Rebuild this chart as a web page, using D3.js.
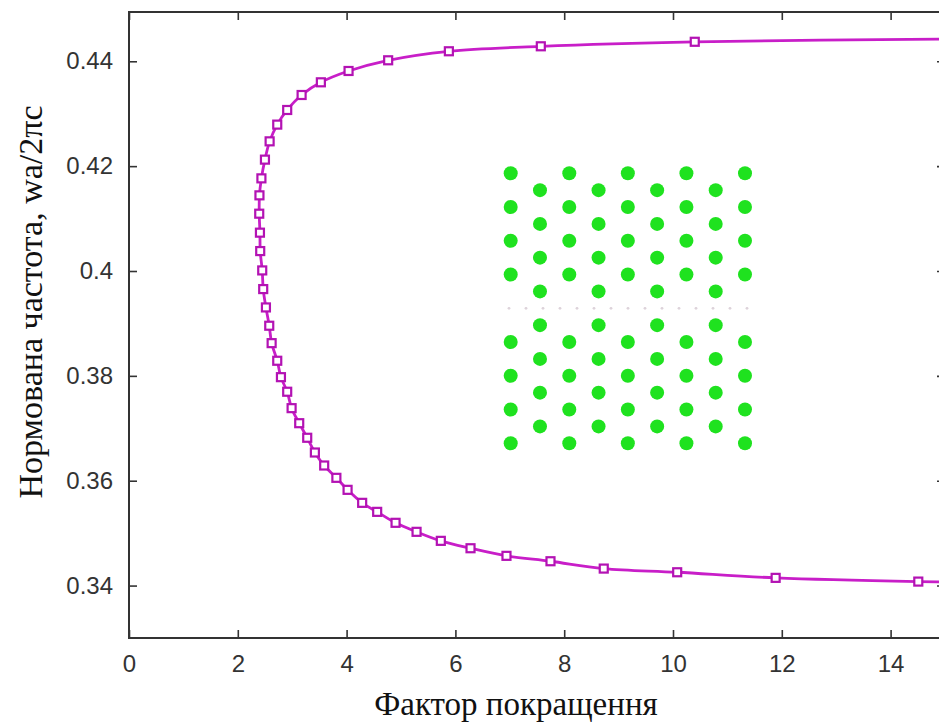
<!DOCTYPE html>
<html>
<head>
<meta charset="utf-8">
<script src="https://cdn.jsdelivr.net/npm/d3@7/dist/d3.min.js"></script>
<style>
  html, body { margin: 0; padding: 0; background: #fff; }
  svg { display: block; }
</style>
</head>
<body>
<svg id="chart" width="939" height="726"></svg>
<script>
// Enhancement factor (x) vs normalised frequency wa/2πc (y), traced along the band edge
const factor = [10.40, 7.57, 5.88, 4.764, 4.036, 3.527, 3.173, 2.908, 2.725, 2.585,
  2.499, 2.434, 2.398, 2.394, 2.407, 2.412, 2.449, 2.467, 2.517, 2.578,
  2.622, 2.725, 2.793, 2.908, 2.989, 3.129, 3.276, 3.417, 3.588, 3.812,
  4.018, 4.286, 4.562, 4.900, 5.286, 5.732, 6.278, 6.939, 7.748, 8.727,
  10.077, 11.887, 14.509];
const freq = [0.44372, 0.44286, 0.44191, 0.44019, 0.43815, 0.43599, 0.43357, 0.43071, 0.42792, 0.42473,
  0.42124, 0.41767, 0.41443, 0.41093, 0.40731, 0.40380, 0.40011, 0.39655, 0.39305, 0.38956,
  0.38624, 0.38288, 0.37975, 0.37697, 0.37384, 0.37097, 0.36819, 0.36538, 0.36290, 0.36055,
  0.35826, 0.35578, 0.35406, 0.35197, 0.35025, 0.34853, 0.34712, 0.34567, 0.34464, 0.34324,
  0.34254, 0.34147, 0.34076];
// the two branches continue past the right border of the frame
const tailFactor = [15.6, 15.6];
const tailFreq = [0.44430, 0.34062];

const xTicks = [0, 2, 4, 6, 8, 10, 12, 14];
const yTicks = [0.34, 0.36, 0.38, 0.40, 0.42, 0.44];
const yTickLabels = ["0.34", "0.36", "0.38", "0.4", "0.42", "0.44"];

const xTitle = "Фактор покращення";
const yTitle = "Нормована частота, wa/2πc";

// Inset: triangular lattice of rods with a line defect in the middle row
const latticeCols = [0, 1, 2, 3, 4, 5, 6, 7, 8];
const rowsEvenCol = [-8, -6, -4, -2, 2, 4, 6, 8];
const rowsOddCol = [-7, -5, -3, -1, 1, 3, 5, 7];
const defectDots = [0, 1, 2, 3, 4, 5, 6, 7, 8, 9, 10, 11, 12, 13, 14];

const svg = d3.select("#chart");
const plotLeft = 129, plotRight = 945, plotTop = 12, plotBottom = 638;

const x = d3.scaleLinear().domain([0, 15]).range([plotLeft, plotRight]);
const y = d3.scaleLinear().domain([0.33, 0.4494]).range([plotBottom, plotTop]);

svg.append("defs").append("clipPath").attr("id", "plotClip")
  .append("rect").attr("x", plotLeft).attr("y", plotTop)
  .attr("width", plotRight - plotLeft).attr("height", plotBottom - plotTop);

const axisColor = "#333";
const tickFont = "'Liberation Sans', Arial, sans-serif";
const titleFont = "'Liberation Serif', 'Times New Roman', serif";

function styleAxis(g, hideText) {
  g.select(".domain").remove();
  g.selectAll(".tick line").attr("stroke", axisColor).attr("stroke-width", 1.6);
  g.selectAll(".tick text")
    .attr("fill", axisColor)
    .style("font-family", tickFont)
    .style("font-size", "24px");
  if (hideText) g.selectAll(".tick text").remove();
}

svg.append("g").attr("transform", `translate(0,${plotBottom})`)
  .call(d3.axisBottom(x).tickValues(xTicks).tickSize(-8).tickPadding(17).tickFormat(d3.format("d")))
  .call(g => styleAxis(g, false));
svg.append("g").attr("transform", `translate(0,${plotTop})`)
  .call(d3.axisTop(x).tickValues(xTicks).tickSize(-8))
  .call(g => styleAxis(g, true));
svg.append("g").attr("transform", `translate(${plotLeft},0)`)
  .call(d3.axisLeft(y).tickValues(yTicks).tickSize(-8).tickPadding(16)
    .tickFormat((d, i) => yTickLabels[i]))
  .call(g => styleAxis(g, false));
svg.append("g").attr("transform", `translate(${plotRight},0)`)
  .call(d3.axisRight(y).tickValues(yTicks).tickSize(-8))
  .call(g => styleAxis(g, true));

// frame
svg.append("rect")
  .attr("x", plotLeft).attr("y", plotTop)
  .attr("width", plotRight - plotLeft).attr("height", plotBottom - plotTop)
  .attr("fill", "none").attr("stroke", axisColor).attr("stroke-width", 2);

// axis titles
svg.append("text")
  .attr("x", 516).attr("y", 715)
  .attr("text-anchor", "middle")
  .style("font-family", titleFont)
  .style("font-size", "33px")
  .attr("fill", "#111")
  .text(xTitle);
svg.append("text")
  .attr("transform", "translate(42,302) rotate(-90)")
  .attr("text-anchor", "middle")
  .style("font-family", titleFont)
  .style("font-size", "34px")
  .attr("fill", "#111")
  .text(yTitle);

// inset lattice
const colX = d3.scaleLinear().domain([0, 8]).range([510.7, 745]);
const rowY = d3.scaleLinear().domain([-8, 8]).range([173.3, 443.3]);
const rods = [];
latticeCols.forEach(c => {
  (c % 2 === 0 ? rowsEvenCol : rowsOddCol).forEach(r => rods.push({ c, r }));
});
const inset = svg.append("g");
const defectX = d3.scaleLinear().domain([0, 14]).range([509, 747]);
inset.selectAll("circle.defect").data(defectDots).join("circle")
  .attr("class", "defect")
  .attr("cx", d => defectX(d)).attr("cy", rowY(0))
  .attr("r", 1.4).attr("fill", "#ddd3da");
inset.selectAll("circle.rod").data(rods).join("circle")
  .attr("class", "rod")
  .attr("cx", d => colX(d.c)).attr("cy", d => rowY(d.r))
  .attr("r", 7).attr("fill", "#1fe21f");

// curve and markers
const pts = factor.map((f, i) => ({ f, v: freq[i] }));
const linePts = [{ f: tailFactor[0], v: tailFreq[0] }, ...pts, { f: tailFactor[1], v: tailFreq[1] }];
const plot = svg.append("g").attr("clip-path", "url(#plotClip)");
plot.append("path")
  .datum(linePts)
  .attr("fill", "none")
  .attr("stroke", "#c81ec8")
  .attr("stroke-width", 2.8)
  .attr("d", d3.line().x(d => x(d.f)).y(d => y(d.v)).curve(d3.curveCatmullRom));
plot.selectAll("rect.mk").data(pts).join("rect")
  .attr("class", "mk")
  .attr("x", d => x(d.f) - 4).attr("y", d => y(d.v) - 4)
  .attr("width", 8).attr("height", 8)
  .attr("fill", "#fff")
  .attr("stroke", "#b312b3")
  .attr("stroke-width", 2.2);
</script>
</body>
</html>
